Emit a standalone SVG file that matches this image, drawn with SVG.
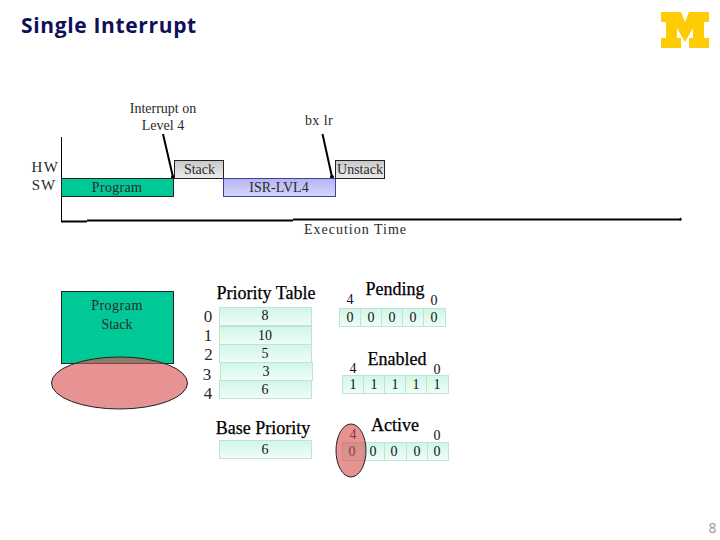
<svg xmlns="http://www.w3.org/2000/svg" width="720" height="540" viewBox="0 0 720 540">
<defs>
<linearGradient id="cell" x1="0" y1="0" x2="0" y2="1"><stop offset="0" stop-color="#d0f6e6"/><stop offset="1" stop-color="#f0fdf8"/></linearGradient>
<linearGradient id="isr" x1="0" y1="0" x2="0" y2="1"><stop offset="0" stop-color="#b4b4f4"/><stop offset="1" stop-color="#d6d6fa"/></linearGradient>
<linearGradient id="gry" x1="0" y1="0" x2="0" y2="1"><stop offset="0" stop-color="#c8c8c8"/><stop offset="1" stop-color="#ececec"/></linearGradient>
<marker id="dot" viewBox="0 0 4 4" refX="2" refY="2" markerWidth="4" markerHeight="4" markerUnits="userSpaceOnUse"><circle cx="2" cy="2" r="2" fill="#000"/></marker>
</defs>
<style>
text{font-family:"Liberation Serif",serif;fill:#2a2a2a;text-anchor:middle}
.t{font-size:14px}
.h{font-size:18px;fill:#000;stroke:#000;stroke-width:.25px}
.n{font-size:14px;fill:#111}
.c{fill:url(#cell);stroke:#bfe3d4;stroke-width:1}
.l{font-size:17px}
.bar{stroke:#222;stroke-width:1}
</style>
<text id="title" x="21" y="33" style="font-family:'Open Sans',sans-serif;font-weight:700;text-anchor:start;fill:#10105a;letter-spacing:.65px" font-size="21">Single Interrupt</text>
<g id="logo"><polygon fill="#ffcb05" points="661,12 681,12 685,22 689,12 709,12 709,22 704,22 704,38 709,38 709,48 689,48 689,38 693,38 693,28 685,42 677,28 677,38 681,38 681,48 661,48 661,38 666,38 666,22 661,22"/></g>

<g id="connectors" fill="none" stroke="#000">
<path d="M61.500 137V221" stroke-width="1"/>
<path d="M61 221.500H87" stroke-width="2"/>
<path d="M87 220.500H293" stroke-width="2"/>
<path d="M293 219.500H680" stroke-width="2"/>
<path d="M680 218l1 1.500l-1 1" stroke-width="1.500"/>
<line x1="163" y1="134" x2="173" y2="177" stroke-width="2" marker-end="url(#dot)"/>
<line x1="322.500" y1="134" x2="332" y2="177" stroke-width="2" marker-end="url(#dot)"/>
</g>

<g id="hw-sw"><text x="45.500" y="172" font-size="15" letter-spacing="1.500">HW</text><text x="44" y="190" font-size="15" letter-spacing="1">SW</text></g>
<g id="interrupt-label"><text class="t" x="163" y="113">Interrupt on</text><text class="t" x="163" y="130">Level 4</text></g>
<g id="bxlr-label"><text class="t" x="319" y="125" letter-spacing=".4">bx lr</text></g>
<g id="program"><rect class="bar" x="61.500" y="178.500" width="112" height="18" fill="#00c896"/><text class="t" x="117" y="192" letter-spacing=".3">Program</text></g>
<g id="stack"><rect class="bar" x="174.500" y="160.500" width="49" height="18" fill="url(#gry)"/><text class="t" x="199.500" y="174">Stack</text></g>
<g id="isr-lvl4"><rect x="223.500" y="178.500" width="112" height="18" fill="url(#isr)" stroke="#4040a0"/><text class="t" x="279" y="192">ISR-LVL4</text></g>
<g id="unstack"><rect class="bar" x="335.500" y="160.500" width="49" height="18" fill="url(#gry)"/><text class="t" x="360" y="174">Unstack</text></g>
<g id="exec-time"><text class="t" x="355.500" y="234" letter-spacing="1">Execution Time</text></g>

<g id="program-stack">
<rect class="bar" x="61.500" y="291.500" width="112" height="72" fill="#00c896"/>
<text class="t" x="117" y="310" letter-spacing=".5">Program</text><text class="t" x="117" y="329">Stack</text>
</g>
<g id="stack-ellipse"><ellipse cx="119.500" cy="383" rx="68" ry="26" fill="#d85050" fill-opacity=".62" stroke="#222"/></g>

<g id="priority-table">
<text class="h" x="266" y="299">Priority Table</text>
<text class="l" x="208" y="322">0</text><text class="l" x="208" y="341">1</text><text class="l" x="208.500" y="360">2</text><text class="l" x="207" y="380">3</text><text class="l" x="208" y="399">4</text>
<rect class="c" x="219.500" y="307.500" width="92" height="18"/><text class="n" x="265" y="320">8</text>
<rect class="c" x="219.500" y="326.500" width="92" height="18"/><text class="n" x="265" y="340">10</text>
<rect class="c" x="219.500" y="344.500" width="92" height="18"/><text class="n" x="265" y="358">5</text>
<rect class="c" x="220.500" y="362.500" width="92" height="18"/><text class="n" x="266" y="376">3</text>
<rect class="c" x="219.500" y="380.500" width="92" height="18"/><text class="n" x="265" y="394">6</text>
</g>
<g id="base-priority">
<text class="h" x="263" y="434">Base Priority</text>
<rect class="c" x="219.500" y="440.500" width="92" height="18"/><text class="n" x="265" y="454">6</text>
</g>

<g id="pending">
<text class="h" x="395" y="295">Pending</text>
<text class="n" x="350" y="304">4</text><text class="n" x="434" y="305">0</text>
<rect class="c" x="339.500" y="308.500" width="21" height="18"/><rect class="c" x="360.500" y="308.500" width="21" height="18"/><rect class="c" x="381.500" y="308.500" width="21" height="18"/><rect class="c" x="402.500" y="308.500" width="21" height="18"/><rect class="c" x="423.500" y="308.500" width="22" height="18"/>
<text class="n" x="350" y="322">0</text><text class="n" x="371" y="322">0</text><text class="n" x="392" y="322">0</text><text class="n" x="413" y="322">0</text><text class="n" x="434" y="322">0</text>
</g>
<g id="enabled">
<text class="h" x="397" y="365">Enabled</text>
<text class="n" x="353" y="373">4</text><text class="n" x="437" y="374">0</text>
<rect class="c" x="342.500" y="375.500" width="21" height="18"/><rect class="c" x="363.500" y="375.500" width="21" height="18"/><rect class="c" x="384.500" y="375.500" width="21" height="18"/><rect class="c" x="405.500" y="375.500" width="21" height="18"/><rect class="c" x="426.500" y="375.500" width="22" height="18"/>
<text class="n" x="353" y="389">1</text><text class="n" x="374" y="389">1</text><text class="n" x="395" y="389">1</text><text class="n" x="416" y="389">1</text><text class="n" x="437" y="389">1</text>
</g>
<g id="active">
<text class="h" x="395" y="431">Active</text>
<text class="n" x="353" y="439">4</text><text class="n" x="437" y="440">0</text>
<rect class="c" x="342.500" y="442.500" width="21" height="18"/><rect class="c" x="363.500" y="442.500" width="21" height="18"/><rect class="c" x="384.500" y="442.500" width="22" height="18"/><rect class="c" x="406.500" y="442.500" width="21" height="18"/><rect class="c" x="427.500" y="442.500" width="21" height="18"/>
<text class="n" x="352" y="456">0</text><text class="n" x="373" y="456">0</text><text class="n" x="394" y="456">0</text><text class="n" x="417" y="456">0</text><text class="n" x="437" y="456">0</text>
</g>
<g id="active-ellipse"><ellipse cx="351" cy="450.500" rx="15" ry="26.500" fill="#d85050" fill-opacity=".62" stroke="#222"/></g>
<text id="page" x="712.500" y="533" style="font-family:'Open Sans',sans-serif;fill:#999;text-anchor:middle" font-size="14">8</text>
</svg>
